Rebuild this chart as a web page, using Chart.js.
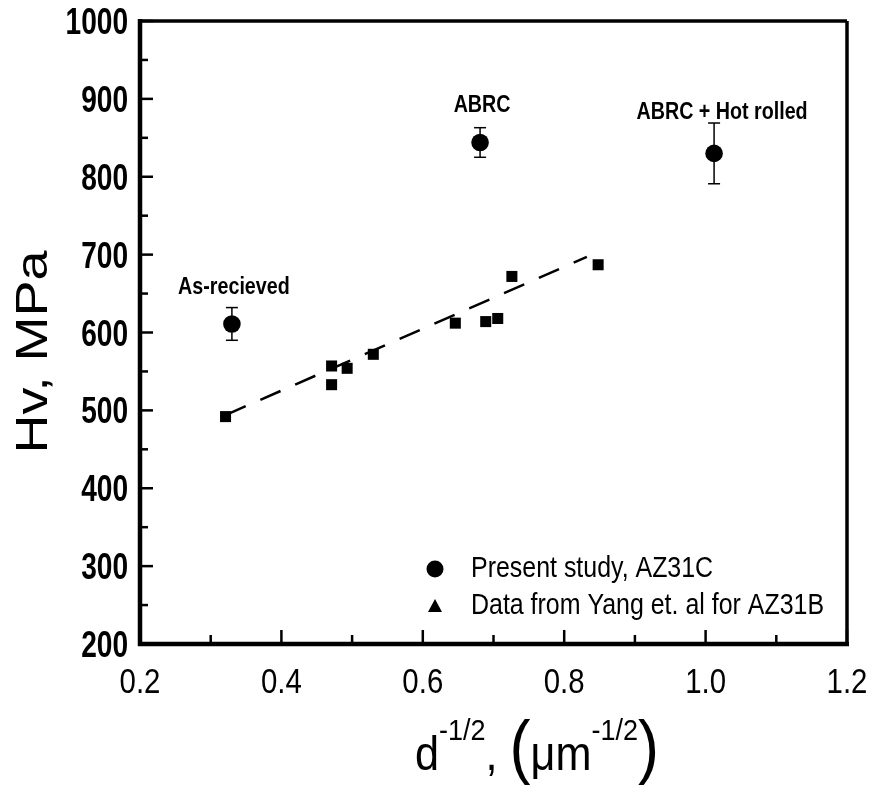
<!DOCTYPE html>
<html>
<head>
<meta charset="utf-8">
<script src="https://cdn.jsdelivr.net/npm/chart.js@4.4.1/dist/chart.umd.min.js"></script>
<style>
  html, body { margin: 0; padding: 0; background: #fff; }
  #wrap { width: 877px; height: 787px; }
</style>
</head>
<body>
<div id="wrap"><canvas id="myChart" width="877" height="787"></canvas></div>
<script>
// Hall-Petch plot: hardness vs inverse square root of grain size
const presentX = [0.330, 0.681, 1.012];
const presentY = [611, 844, 830];
const presentErr = [21, 19, 39];
const presentNames = ['As-recieved', 'ABRC', 'ABRC + Hot rolled'];

const yangX = [0.321, 0.471, 0.471, 0.493, 0.530, 0.646, 0.689, 0.706, 0.726, 0.848];
const yangY = [492, 557, 533, 554, 572, 612, 614, 618, 672, 687];

const fitX = [0.321, 0.832];
const fitY = [494, 697];

const xMajorTicks = [0.2, 0.4, 0.6, 0.8, 1.0, 1.2];
const xMinorTicks = [0.3, 0.5, 0.7, 0.9, 1.1];
const yMajorTicks = [200, 300, 400, 500, 600, 700, 800, 900, 1000];
const yMinorTicks = [250, 350, 450, 550, 650, 750, 850, 950];

const legendNames = ['Present study, AZ31C', 'Data from Yang et. al for AZ31B'];

const SANS = '"Liberation Sans", Arial, sans-serif';

// label offsets from the point (px)
const labelOffsets = [[2, -37], [2, -37], [8, -41]];

function line(ctx, x1, y1, x2, y2) {
  ctx.beginPath();
  ctx.moveTo(x1, y1);
  ctx.lineTo(x2, y2);
  ctx.stroke();
}

// text squeezed (or stretched) horizontally; no condensed face is installed
function squeezed(ctx, text, x, y, sx, align) {
  ctx.save();
  ctx.translate(x, y);
  ctx.scale(sx, 1);
  ctx.textAlign = align || 'left';
  ctx.fillText(text, 0, 0);
  ctx.restore();
}

const framePlugin = {
  id: 'frame',
  afterDraw(chart) {
    const { ctx, chartArea: a, scales: { x, y } } = chart;
    ctx.save();
    ctx.strokeStyle = '#000';
    ctx.fillStyle = '#000';
    ctx.lineCap = 'butt';

    // inward ticks on the bottom and left axes
    ctx.lineWidth = 2.5;
    xMajorTicks.forEach(v => { const p = x.getPixelForValue(v); line(ctx, p, a.bottom, p, a.bottom - 14); });
    xMinorTicks.forEach(v => { const p = x.getPixelForValue(v); line(ctx, p, a.bottom, p, a.bottom - 9); });
    yMajorTicks.forEach(v => { const p = y.getPixelForValue(v); line(ctx, a.left, p, a.left + 13, p); });
    yMinorTicks.forEach(v => { const p = y.getPixelForValue(v); line(ctx, a.left, p, a.left + 8, p); });

    // box
    ctx.lineWidth = 3.5;
    line(ctx, a.left, a.top, a.right, a.top);
    line(ctx, a.right, a.top, a.right, a.bottom + 2);
    ctx.lineWidth = 4.5;
    line(ctx, a.left, a.top - 2, a.left, a.bottom + 2);
    line(ctx, a.left - 2, a.bottom, a.right + 2, a.bottom);

    // tick labels
    ctx.textBaseline = 'alphabetic';
    ctx.font = '35px ' + SANS;
    xMajorTicks.forEach(v => squeezed(ctx, v.toFixed(1), x.getPixelForValue(v), a.bottom + 49, 0.84, 'center'));
    ctx.font = 'bold 36px ' + SANS;
    yMajorTicks.forEach(v => squeezed(ctx, String(v), a.left - 12, y.getPixelForValue(v) + 13, 0.78, 'right'));

    // point labels
    ctx.font = 'bold 24px ' + SANS;
    ctx.textBaseline = 'middle';
    presentNames.forEach((name, i) => {
      const px = x.getPixelForValue(presentX[i]);
      const py = y.getPixelForValue(presentY[i]);
      squeezed(ctx, name, px + labelOffsets[i][0], py + labelOffsets[i][1], 0.82, 'center');
    });

    // legend
    const lx = 435, ly1 = 569, ly2 = 606;
    ctx.beginPath();
    ctx.arc(lx, ly1, 8.5, 0, Math.PI * 2);
    ctx.fill();
    ctx.beginPath();
    ctx.moveTo(lx, ly2 - 7);
    ctx.lineTo(lx + 7, ly2 + 6);
    ctx.lineTo(lx - 7, ly2 + 6);
    ctx.closePath();
    ctx.fill();
    ctx.font = '29px ' + SANS;
    squeezed(ctx, legendNames[0], 471, ly1, 0.86);
    squeezed(ctx, legendNames[1], 471, ly2, 0.86);

    // y axis title
    ctx.save();
    ctx.translate(35, 352);
    ctx.rotate(-Math.PI / 2);
    ctx.font = '45px ' + SANS;
    squeezed(ctx, 'Hv, MPa', 0, 0, 1.2, 'center');
    ctx.restore();

    // x axis title with superscripts
    const parts = [
      { t: 'd', f: '48px ' + SANS, dy: 0 },
      { t: '-1/2', f: '30px ' + SANS, dy: -30 },
      { t: ', ', f: '48px ' + SANS, dy: 0 },
      { t: '(', f: '70px ' + SANS, dy: 0 },
      { t: '\u03bcm', f: '48px ' + SANS, dy: 0 },
      { t: '-1/2', f: '30px ' + SANS, dy: -30 },
      { t: ')', f: '70px ' + SANS, dy: 0 }
    ];
    const sx = 0.9;
    ctx.textBaseline = 'alphabetic';
    let total = 0;
    parts.forEach(p => { ctx.font = p.f; p.w = ctx.measureText(p.t).width * sx; total += p.w; });
    let cx = 537 - total / 2;
    const base = 770;
    parts.forEach(p => { ctx.font = p.f; squeezed(ctx, p.t, cx, base + p.dy, sx); cx += p.w; });

    ctx.restore();
  }
};

const errorBarPlugin = {
  id: 'errorBars',
  beforeDatasetsDraw(chart) {
    const { ctx, scales: { x, y } } = chart;
    ctx.save();
    ctx.strokeStyle = '#000';
    ctx.lineWidth = 1.5;
    presentX.forEach((v, i) => {
      const px = x.getPixelForValue(v);
      const top = y.getPixelForValue(presentY[i] + presentErr[i]);
      const bot = y.getPixelForValue(presentY[i] - presentErr[i]);
      line(ctx, px, top, px, bot);
      line(ctx, px - 6, top, px + 6, top);
      line(ctx, px - 6, bot, px + 6, bot);
    });
    ctx.restore();
  }
};

const ctx = document.getElementById('myChart').getContext('2d');
new Chart(ctx, {
  type: 'scatter',
  data: {
    datasets: [
      {
        label: 'fit',
        type: 'line',
        data: fitX.map((v, i) => ({ x: v, y: fitY[i] })),
        borderColor: '#000',
        borderWidth: 2.5,
        borderDash: [22, 16],
        pointRadius: 0,
        fill: false
      },
      {
        label: legendNames[1],
        data: yangX.map((v, i) => ({ x: v, y: yangY[i] })),
        pointStyle: 'rect',
        pointRadius: 7.8,
        backgroundColor: '#000',
        borderColor: '#000',
        borderWidth: 0
      },
      {
        label: legendNames[0],
        data: presentX.map((v, i) => ({ x: v, y: presentY[i] })),
        pointStyle: 'circle',
        pointRadius: 8.8,
        backgroundColor: '#000',
        borderColor: '#000',
        borderWidth: 0
      }
    ]
  },
  options: {
    responsive: false,
    animation: false,
    layout: { autoPadding: false, padding: { top: 21, right: 30, left: 0, bottom: 0 } },
    plugins: { legend: { display: false }, tooltip: { enabled: false } },
    scales: {
      x: {
        type: 'linear',
        min: 0.2, max: 1.2,
        afterFit: s => { s.height = 143; },
        grid: { display: false, drawTicks: false },
        border: { display: false },
        ticks: { display: false }
      },
      y: {
        type: 'linear',
        min: 200, max: 1000,
        afterFit: s => { s.width = 140; },
        grid: { display: false, drawTicks: false },
        border: { display: false },
        ticks: { display: false }
      }
    }
  },
  plugins: [errorBarPlugin, framePlugin]
});
</script>
</body>
</html>
